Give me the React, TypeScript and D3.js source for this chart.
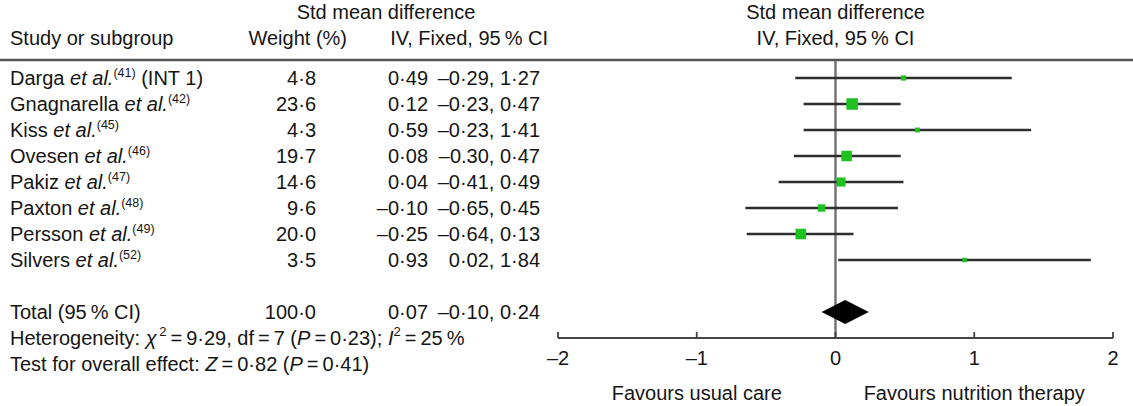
import * as React from 'react'
import * as d3 from 'd3'

const studies = ['Darga', 'Gnagnarella', 'Kiss', 'Ovesen', 'Pakiz', 'Paxton', 'Persson', 'Silvers'];
const refs = ['41', '42', '45', '46', '47', '48', '49', '52'];
const suffixes = [' (INT 1)', '', '', '', '', '', '', ''];
const weights = [4.8, 23.6, 4.3, 19.7, 14.6, 9.6, 20.0, 3.5];
const estimates = [0.49, 0.12, 0.59, 0.08, 0.04, -0.10, -0.25, 0.93];
const lower = [-0.29, -0.23, -0.23, -0.30, -0.41, -0.65, -0.64, 0.02];
const upper = [1.27, 0.47, 1.41, 0.47, 0.49, 0.45, 0.13, 1.84];
// CI text as printed (Ovesen keeps its full stop)
const ciLabels = ['–0·29, 1·27', '–0·23, 0·47', '–0·23, 1·41', '–0.30, 0·47', '–0·41, 0·49', '–0·65, 0·45', '–0·64, 0·13', '0·02, 1·84'];

const totalWeight = 100.0;
const totalEstimate = 0.07;
const totalLower = -0.10;
const totalUpper = 0.24;

const ticks = [-2, -1, 0, 1, 2];

const W = 1133;
const H = 406;
const FONT = '"Liberation Sans", Arial, sans-serif';

const fmt = (v: number, d = 2) => (v < 0 ? '–' : '') + Math.abs(v).toFixed(d).replace('.', '·');

const App: React.FC = () => {
  const x = d3.scaleLinear().domain([-2, 2]).range([558, 1113]);
  const y = d3.scaleLinear().domain([0, 7]).range([78, 260]);
  const side = d3.scaleSqrt().domain([0, 23.6]).range([0, 11.5]);

  const totalY = 312;
  const axisY = 338;
  const dy = 7;

  const diamond = d3.line<[number, number]>()([
    [x(totalLower), totalY],
    [x(totalEstimate), totalY - 12],
    [x(totalUpper), totalY],
    [x(totalEstimate), totalY + 12],
  ]) + 'Z';

  return (
    <svg width={W} height={H} style={{ position: 'absolute', left: 0, top: 0, background: '#fff' }}
      fontFamily={FONT} fontSize={20} fill="#151515">
      {/* headers */}
      <text x={386} y={19} textAnchor="middle">Std mean difference</text>
      <text x={10} y={45}>Study or subgroup</text>
      <text x={347} y={45} textAnchor="end">Weight (%)</text>
      <text x={548} y={45} textAnchor="end">IV, Fixed, 95{'\u2009'}% CI</text>
      <text x={x(0)} y={19} textAnchor="middle">Std mean difference</text>
      <text x={x(0)} y={45} textAnchor="middle">IV, Fixed, 95{'\u2009'}% CI</text>
      <line x1={0} x2={W} y1={60} y2={60} stroke="#555" strokeWidth={2.5} />

      {/* study rows */}
      {studies.map((s, i) => (
        <g key={s}>
          <text x={10} y={y(i) + dy}>
            {s} <tspan fontStyle="italic">et al.</tspan>
            <tspan fontSize={12.5} dy={-8}>({refs[i]})</tspan>
            <tspan dy={8}>{suffixes[i]}</tspan>
          </text>
          <text x={316} y={y(i) + dy} textAnchor="end">{fmt(weights[i], 1)}</text>
          <text x={428} y={y(i) + dy} textAnchor="end">{fmt(estimates[i])}</text>
          <text x={540} y={y(i) + dy} textAnchor="end">{ciLabels[i]}</text>
        </g>
      ))}

      {/* totals and tests */}
      <text x={10} y={totalY + dy}>Total (95{'\u2009'}% CI)</text>
      <text x={316} y={totalY + dy} textAnchor="end">{fmt(totalWeight, 1)}</text>
      <text x={428} y={totalY + dy} textAnchor="end">{fmt(totalEstimate)}</text>
      <text x={540} y={totalY + dy} textAnchor="end">{fmt(totalLower)}, {fmt(totalUpper)}</text>
      <text x={10} y={338 + dy}>
        Heterogeneity: <tspan fontStyle="italic">χ</tspan><tspan fontSize={13} dy={-9}>{'\u2009'}2</tspan>
        <tspan dy={9}>{'\u2009'}={'\u2009'}9·29, df{'\u2009'}={'\u2009'}7 (</tspan><tspan fontStyle="italic">P</tspan>
        <tspan>{'\u2009'}={'\u2009'}0·23); </tspan><tspan fontStyle="italic">I</tspan><tspan fontSize={13} dy={-9}>2</tspan>
        <tspan dy={9}>{'\u2009'}={'\u2009'}25{'\u2009'}%</tspan>
      </text>
      <text x={10} y={364 + dy}>
        Test for overall effect: <tspan fontStyle="italic">Z</tspan>{'\u2009'}={'\u2009'}0·82 (<tspan fontStyle="italic">P</tspan>{'\u2009'}={'\u2009'}0·41)
      </text>

      {/* forest plot */}
      <line x1={x(0)} x2={x(0)} y1={61} y2={axisY} stroke="#707070" strokeWidth={2.4} />
      {studies.map((s, i) => (
        <g key={'f' + s}>
          <line x1={x(lower[i])} x2={x(upper[i])} y1={y(i)} y2={y(i)} stroke="#2e2e2e" strokeWidth={2.3} />
          <rect x={x(estimates[i]) - side(weights[i]) / 2} y={y(i) - side(weights[i]) / 2}
            width={side(weights[i])} height={side(weights[i])} fill="#1ec21e" />
        </g>
      ))}
      <path d={diamond} fill="#000" />

      {/* axis */}
      <line x1={x(-2)} x2={x(2)} y1={axisY} y2={axisY} stroke="#444" strokeWidth={1.8} />
      {ticks.map(t => (
        <g key={t}>
          <line x1={x(t)} x2={x(t)} y1={axisY - 6} y2={axisY} stroke="#444" strokeWidth={1.8} />
          <text x={x(t)} y={365} textAnchor="middle">{t < 0 ? '–' + Math.abs(t) : t}</text>
        </g>
      ))}
      <text x={x(-1)} y={400} textAnchor="middle">Favours usual care</text>
      <text x={x(1)} y={400} textAnchor="middle">Favours nutrition therapy</text>
    </svg>
  );
};

export default App;
